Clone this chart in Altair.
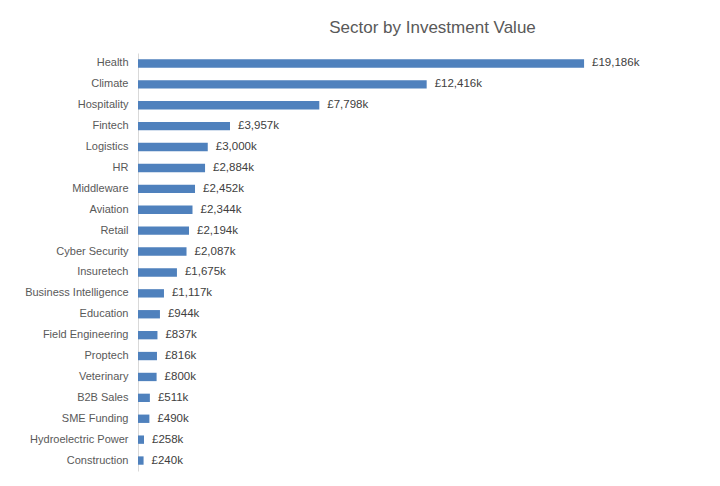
import altair as alt
import pandas as pd

sectors = ["Health", "Climate", "Hospitality", "Fintech", "Logistics", "HR",
           "Middleware", "Aviation", "Retail", "Cyber Security", "Insuretech",
           "Business Intelligence", "Education", "Field Engineering", "Proptech",
           "Veterinary", "B2B Sales", "SME Funding", "Hydroelectric Power",
           "Construction"]
values_k = [19186, 12416, 7798, 3957, 3000, 2884, 2452, 2344, 2194, 2087, 1675,
            1117, 944, 837, 816, 800, 511, 490, 258, 240]

df = pd.DataFrame({"sector": sectors, "value": values_k})

FONT = "Liberation Sans"
W, H = 465, 418

base = alt.Chart(df).transform_calculate(
    label="'£' + format(datum.value, ',') + 'k'"
).encode(
    y=alt.Y("sector:N", sort=sectors,
            scale=alt.Scale(paddingInner=0.6, paddingOuter=0.3),
            axis=alt.Axis(title=None, ticks=False, domainColor="#d9d9d9",
                          labelColor="#595959", labelFont=FONT, labelFontSize=11,
                          labelPadding=10)),
    x=alt.X("value:Q", scale=alt.Scale(domain=[0, 20000], nice=False),
            axis=None),
)

bars = base.mark_bar(color="#4F81BD")
labels = base.mark_text(align="left", dx=8, font=FONT, fontSize=11.5,
                        color="#404040").encode(text="label:N")

chart = (bars + labels).properties(
    width=W, height=H,
    autosize=alt.AutoSizeParams(type="none"),
    padding={"left": 130, "top": 45, "right": 109, "bottom": 7},
    background="white",
    title=alt.TitleParams("Sector by Investment Value", font=FONT, fontSize=17,
                          fontWeight="normal", color="#595959", anchor="middle",
                          dx=62, offset=16),
).configure_view(stroke=None)

chart.save("out.html", embed_options={"renderer": "svg", "actions": False})
